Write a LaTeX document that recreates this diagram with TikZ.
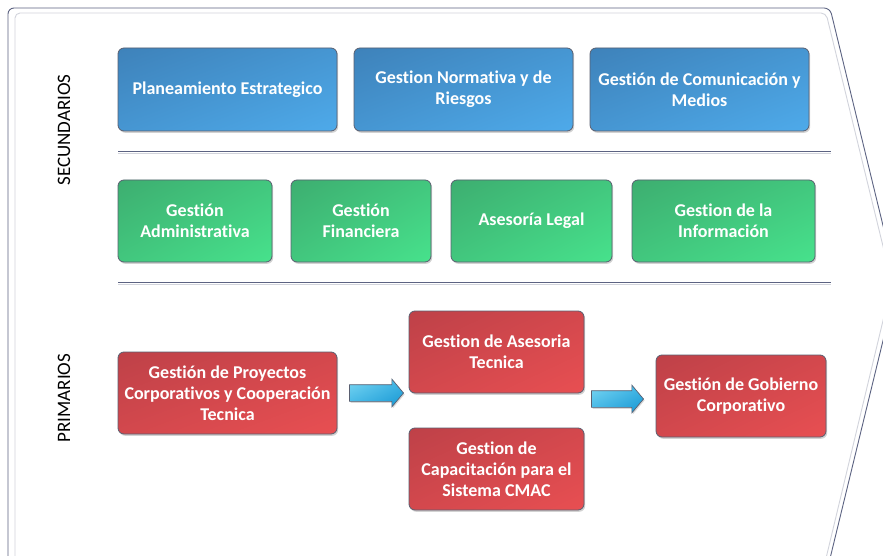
\documentclass[tikz,border=0pt]{standalone}
\usepackage{fontspec}
\setmainfont{Carlito}[Ligatures=NoCommon]
\usetikzlibrary{shadows,shadings,shapes.arrows}
\definecolor{frameout}{HTML}{5C6382}
\definecolor{framein}{HTML}{D2D4DC}
\definecolor{boxline}{HTML}{5A5F70}
\definecolor{blueA}{HTML}{3E82BA}
\definecolor{blueB}{HTML}{4EAAEA}
\definecolor{blueM}{HTML}{4696D2}
\definecolor{greenA}{HTML}{3DAE70}
\definecolor{greenB}{HTML}{47E28C}
\definecolor{greenM}{HTML}{42C77E}
\definecolor{redA}{HTML}{BE4148}
\definecolor{redB}{HTML}{E84F52}
\definecolor{redM}{HTML}{D3484D}
\definecolor{arrA}{HTML}{7AD6F2}
\definecolor{arrB}{HTML}{1796D2}
\definecolor{arrM}{HTML}{3FB5E5}
\tikzset{
  procbox/.style={draw=boxline, line width=0.8pt, rounded corners=6pt,
    text=white, align=center, inner sep=2pt,
    font=\bfseries\fontsize{18}{21}\selectfont,
    drop shadow={shadow xshift=1.2pt, shadow yshift=-1.8pt, opacity=0.35}},
  bluebox/.style={procbox, upper left=blueA, upper right=blueM, lower left=blueM, lower right=blueB},
  greenbox/.style={procbox, upper left=greenA, upper right=greenM, lower left=greenM, lower right=greenB},
  redbox/.style={procbox, upper left=redA, upper right=redM, lower left=redM, lower right=redB},
  flowarrow/.style={single arrow, draw=boxline, line width=0.7pt, inner xsep=0pt, inner ysep=8pt,
    single arrow head extend=5.5pt, single arrow tip angle=100,
    upper left=arrA, upper right=arrM, lower left=arrM, lower right=arrB,
    drop shadow={shadow xshift=1pt, shadow yshift=-1.5pt, opacity=0.3}},
  sepline/.style={draw=frameout, line width=0.8pt},
  seplight/.style={draw=framein, line width=0.8pt},
  sidelabel/.style={rotate=90, font=\fontsize{19}{22}\selectfont, text=black},
}
\begin{document}
\begin{tikzpicture}[x=1pt, y=-1pt]
\useasboundingbox (0,0) rectangle (883,556);
\fill[white] (0,0) rectangle (883,556);
\begin{scope}
\clip (0,0) rectangle (883,556);
% outer frame (chevron)
\draw[frameout, line width=0.9pt, rounded corners=6pt]
  (8,575) -- (8,8) -- (830,8) -- (897,283) -- (826,575);
\draw[framein, line width=0.9pt, rounded corners=5pt]
  (15,575) -- (15,13) -- (826,13) -- (892,283) -- (822,575);
\end{scope}
% separators
\coordinate (s1a) at (118,151); \coordinate (s1b) at (831,151);
\coordinate (s1c) at (118,153.5); \coordinate (s1d) at (831,153.5);
\draw[sepline] (s1a) -- (s1b);
\draw[seplight] (s1c) -- (s1d);
\coordinate (s2a) at (118,282); \coordinate (s2b) at (831,282);
\coordinate (s2c) at (118,284.5); \coordinate (s2d) at (831,284.5);
\draw[sepline] (s2a) -- (s2b);
\draw[seplight] (s2c) -- (s2d);
% side labels
\node[sidelabel] (sec) at (64,130) {SECUNDARIOS};
\node[sidelabel] (pri) at (64,398) {PRIMARIOS};
% blue row
\node[bluebox, minimum width=219pt, minimum height=83pt] (b1) at (227.5,89.5) {Planeamiento Estrategico};
\node[bluebox, minimum width=219pt, minimum height=83pt] (b2) at (463.5,89.5) {Gestion Normativa y de\\Riesgos};
\node[bluebox, minimum width=219pt, minimum height=83pt] (b3) at (699.5,89.5) {Gestión de Comunicación y\\Medios};
% green row
\node[greenbox, minimum width=154pt, minimum height=82pt] (g1) at (195,221) {Gestión\\Administrativa};
\node[greenbox, minimum width=140pt, minimum height=82pt] (g2) at (361,221) {Gestión\\Financiera};
\node[greenbox, minimum width=161pt, minimum height=82pt] (g3) at (531.5,221) {Asesoría Legal};
\node[greenbox, minimum width=183pt, minimum height=82pt] (g4) at (723.5,221) {Gestion de la\\Información};
% red row
\node[redbox, minimum width=219pt, minimum height=82pt] (r1) at (227.5,393) {Gestión de Proyectos\\Corporativos y Cooperación\\Tecnica};
\node[redbox, minimum width=175pt, minimum height=82pt] (r2) at (496.5,352) {Gestion de Asesoria\\Tecnica};
\node[redbox, minimum width=175pt, minimum height=82pt] (r3) at (496.5,469) {Gestion de\\Capacitación para el\\Sistema CMAC};
\node[redbox, minimum width=170pt, minimum height=82pt] (r4) at (741,396) {Gestión de Gobierno\\Corporativo};
% block arrows
\node[flowarrow, minimum height=54pt] (a1) at (373,393) {};
\node[flowarrow, minimum height=52pt] (a2) at (614,399) {};
\end{tikzpicture}
\end{document}
